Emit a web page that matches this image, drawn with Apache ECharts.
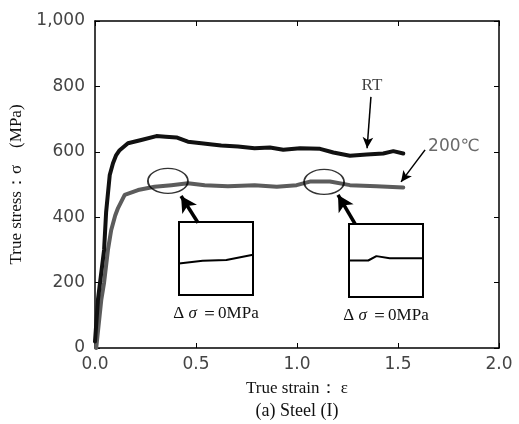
<!DOCTYPE html>
<html>
<head>
<meta charset="utf-8">
<script src="https://cdn.jsdelivr.net/npm/echarts@6/dist/echarts.min.js"></script>
<style>
html,body{margin:0;padding:0;background:#fff;}
#c{width:519px;height:424px;}
</style>
</head>
<body>
<div id="c"></div>
<script>
// ---- data ----
var xTicks = [0.0, 0.5, 1.0, 1.5, 2.0];
var yTicks = [0, 200, 400, 600, 800, 1000];

var rtStrain = [0, 0.015, 0.025, 0.045, 0.055, 0.073, 0.089, 0.105, 0.122, 0.163, 0.229, 0.304, 0.35, 0.403, 0.46, 0.526, 0.58, 0.625, 0.708, 0.79, 0.866, 0.932, 1.015, 1.114, 1.18, 1.262, 1.345, 1.427, 1.477, 1.526];
var rtStress = [20, 150, 200, 300, 415, 529, 565, 590, 605, 626, 636, 648, 646, 644, 631, 626, 622, 619, 616, 611, 613, 606, 611, 609, 598, 588, 592, 595, 602, 595];

var hotStrain = [0.006, 0.031, 0.045, 0.064, 0.08, 0.1, 0.114, 0.147, 0.213, 0.295, 0.378, 0.46, 0.543, 0.658, 0.79, 0.9, 0.998, 1.064, 1.163, 1.262, 1.394, 1.526];
var hotStress = [0, 147, 200, 300, 360, 405, 428, 468, 483, 493, 498, 504, 498, 495, 498, 493, 498, 509, 509, 498, 495, 491];

// inset close-ups (relative units)
var insetAX = [0, 0.32, 0.64, 1];
var insetAY = [43, 47, 48, 55];
var insetBX = [0, 0.26, 0.37, 0.55, 1];
var insetBY = [50, 50, 56, 53, 53];

// annotations (data coordinates)
var ellipseStrain = [0.361, 1.134];
var ellipseStress = [511, 508];
var thickArrowFrom = [[0.51, 383], [1.287, 380]];
var thickArrowTo = [[0.426, 465], [1.203, 468]];
var thinArrowFrom = [[1.366, 768], [1.634, 606]];
var thinArrowTo = [[1.347, 611], [1.515, 508]];
var labelText = ['RT', '200℃'];
var labelPos = [[1.371, 804], [1.649, 615]];
var insetLabel = 'Δ {i|σ} ＝0MPa';

function zip(a, b) { return a.map(function (v, i) { return [v, b[i]]; }); }

var serif = "'Liberation Serif', 'Times New Roman', serif";
var sans = "'DejaVu Sans', 'Liberation Sans', sans-serif";

var chart = echarts.init(document.getElementById('c'), null, {renderer: 'canvas'});

function hiddenAxis(gi, max, withName) {
  var ax = {
    type: 'value', gridIndex: gi, min: 0, max: max,
    axisLine: {show: false, onZero: false}, axisTick: {show: false}, axisLabel: {show: false}, splitLine: {show: false}
  };
  if (withName) {
    ax.name = insetLabel;
    ax.nameLocation = 'middle';
    ax.nameGap = 10;
    ax.nameTextStyle = {
      fontFamily: serif, fontSize: 17, color: '#111', verticalAlign: 'top',
      rich: {i: {fontFamily: serif, fontStyle: 'italic', fontSize: 17, color: '#111'}}
    };
  }
  return ax;
}

function mainAxisLine() { return {show: true, onZero: false, lineStyle: {color: '#000', width: 1.5}}; }
function mainTick() { return {show: true, inside: true, length: 5, lineStyle: {color: '#000', width: 1}}; }

var option = {
  animation: false,
  backgroundColor: '#fff',
  grid: [
    {left: 95, right: 20, top: 21, bottom: 76, outerBoundsMode: 'none'},
    {left: 179, top: 222, width: 74, height: 73, show: true, borderColor: '#000', borderWidth: 2, backgroundColor: '#fff', outerBoundsMode: 'none'},
    {left: 349, top: 224, width: 74, height: 73, show: true, borderColor: '#000', borderWidth: 2, backgroundColor: '#fff', outerBoundsMode: 'none'}
  ],
  xAxis: [
    {
      type: 'value', gridIndex: 0, position: 'bottom', min: xTicks[0], max: xTicks[xTicks.length - 1], interval: 0.5,
      axisLine: mainAxisLine(), axisTick: mainTick(), splitLine: {show: false},
      axisLabel: {fontFamily: sans, fontSize: 17, color: '#444', margin: 8, formatter: function (v) { return v.toFixed(1); }},
      name: '{t|True strain： ε}\n{c|(a) Steel (I)}', nameLocation: 'middle', nameGap: 28,
      nameTextStyle: {fontFamily: serif, fontSize: 17, color: '#111', lineHeight: 22, verticalAlign: 'top',
        rich: {
          t: {fontFamily: serif, fontSize: 17, color: '#111', lineHeight: 22},
          c: {fontFamily: serif, fontSize: 18, color: '#111', lineHeight: 22}
        }}
    },
    {
      type: 'value', gridIndex: 0, position: 'top', min: xTicks[0], max: xTicks[xTicks.length - 1], interval: 0.5,
      axisLine: mainAxisLine(), axisTick: mainTick(), axisLabel: {show: false}, splitLine: {show: false}
    },
    hiddenAxis(1, 1, true),
    hiddenAxis(2, 1, true)
  ],
  yAxis: [
    {
      type: 'value', gridIndex: 0, position: 'left', min: yTicks[0], max: yTicks[yTicks.length - 1], interval: 200,
      axisLine: mainAxisLine(), axisTick: mainTick(), splitLine: {show: false},
      axisLabel: {fontFamily: sans, fontSize: 17, color: '#444', margin: 10,
        formatter: function (v) { return String(v).replace(/\B(?=(\d{3})+(?!\d))/g, ','); }},
      name: 'True stress：σ　(MPa)', nameLocation: 'middle', nameGap: 60,
      nameTextStyle: {fontFamily: serif, fontSize: 17, color: '#111'}
    },
    {
      type: 'value', gridIndex: 0, position: 'right', min: yTicks[0], max: yTicks[yTicks.length - 1], interval: 200,
      axisLine: mainAxisLine(), axisTick: mainTick(), axisLabel: {show: false}, splitLine: {show: false}
    },
    hiddenAxis(1, 100, false),
    hiddenAxis(2, 100, false)
  ],
  series: [
    {
      name: '200℃', type: 'line', xAxisIndex: 0, yAxisIndex: 0, data: zip(hotStrain, hotStress),
      showSymbol: false, symbol: 'none', smooth: false, z: 3,
      lineStyle: {color: '#5c5c5c', width: 4, join: 'round', cap: 'round'}
    },
    {
      name: 'RT', type: 'line', xAxisIndex: 0, yAxisIndex: 0, data: zip(rtStrain, rtStress),
      showSymbol: false, symbol: 'none', smooth: false, z: 4,
      lineStyle: {color: '#111', width: 4, join: 'round', cap: 'round'},
      markLine: {
        silent: true, animation: false, label: {show: false},
        data: thickArrowFrom.map(function (p, i) {
          return [{coord: p, symbol: 'none', lineStyle: {width: 3.5, color: '#000', type: 'solid'}},
                  {coord: thickArrowTo[i], symbol: 'arrow', symbolSize: [13, 16]}];
        }).concat(thinArrowFrom.map(function (p, i) {
          return [{coord: p, symbol: 'none', lineStyle: {width: 1.5, color: '#000', type: 'solid'}},
                  {coord: thinArrowTo[i], symbol: 'arrow', symbolSize: [8, 11]}];
        }))
      }
    },
    {
      name: 'ellipses', type: 'scatter', xAxisIndex: 0, yAxisIndex: 0, z: 6,
      data: zip(ellipseStrain, ellipseStress), symbol: 'circle', symbolSize: [40, 25],
      itemStyle: {color: 'transparent', borderColor: '#000', borderWidth: 1.5}, silent: true
    },
    {
      name: 'labels', type: 'scatter', xAxisIndex: 0, yAxisIndex: 0, z: 6, silent: true,
      symbolSize: 1, itemStyle: {color: 'transparent'},
      data: [
        {value: labelPos[0], label: {show: true, position: 'inside', formatter: labelText[0], fontFamily: serif, fontSize: 17, color: '#111'}},
        {value: labelPos[1], label: {show: true, position: 'inside', align: 'left', formatter: labelText[1], fontFamily: sans, fontSize: 17, color: '#444'}}
      ]
    },
    {
      name: 'insetA', type: 'line', xAxisIndex: 2, yAxisIndex: 2, data: zip(insetAX, insetAY),
      showSymbol: false, symbol: 'none', lineStyle: {color: '#000', width: 2}
    },
    {
      name: 'insetB', type: 'line', xAxisIndex: 3, yAxisIndex: 3, data: zip(insetBX, insetBY),
      showSymbol: false, symbol: 'none', lineStyle: {color: '#000', width: 2}
    }
  ]
};
chart.setOption(option);
</script>
</body>
</html>
